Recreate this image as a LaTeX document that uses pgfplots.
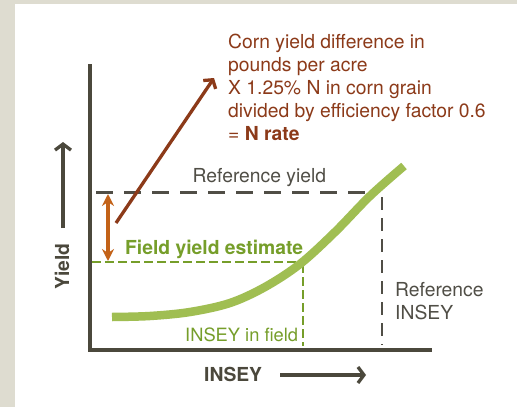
\documentclass[border=0pt]{standalone}
\usepackage{pgfplots}
\pgfplotsset{compat=1.18}
\usepackage{fontspec}
\setmainfont{TeX Gyre Heros}
\usetikzlibrary{arrows.meta}
\definecolor{bggray}{RGB}{222,220,208}
\definecolor{axiscol}{RGB}{75,72,60}
\definecolor{dashgray}{RGB}{80,78,70}
\definecolor{curvegreen}{RGB}{160,190,82}
\definecolor{textgreen}{RGB}{118,158,42}
\definecolor{arrorange}{RGB}{195,98,24}
\definecolor{brown}{RGB}{140,58,25}
\tikzset{lbl/.style={inner sep=0pt, anchor=base west, font=\fontsize{19.3}{23}\selectfont}}
\begin{document}
\begin{tikzpicture}
\begin{axis}[
  width=517pt, height=407pt, scale only axis,
  xmin=0, xmax=517, ymin=0, ymax=407, y dir=reverse,
  axis lines=none, clip=false,
]
% background
\fill[bggray] (axis cs:0,0) rectangle (axis cs:517,407);
\fill[white] (axis cs:15,4) rectangle (axis cs:517,407);
% axes
\addplot[axiscol, line width=3.4pt] coordinates {(90,64) (90,351.7)};
\addplot[axiscol, line width=3.4pt] coordinates {(88.3,350) (432,350)};
% reference yield dashed
\addplot[dashgray, line width=3.4pt, dash pattern=on 17pt off 11pt] coordinates {(96,192.5) (372,192.5)};
\addplot[dashgray, line width=2.7pt, dash pattern=on 13pt off 8pt] coordinates {(382,197) (382,345)};
% field yield dashed
\addplot[textgreen, line width=2.2pt, dash pattern=on 9pt off 4pt] coordinates {(92,262) (300,262)};
\addplot[textgreen, line width=2.2pt, dash pattern=on 9pt off 4pt] coordinates {(303,264) (303,346)};
% curve
\addplot[curvegreen, line width=8.5pt, smooth, tension=0.55] coordinates {
 (112,317) (150,316) (190,312) (230,303) (265,287) (300,264) (335,232) (370,196) (404,166)};
% orange double arrow
\addplot[arrorange, line width=3.2pt, {Stealth[length=12pt,width=12pt,inset=4pt]}-{Stealth[length=12pt,width=12pt,inset=4pt]}] coordinates {(108,194) (108,261)};
% brown arrow
\addplot[brown, line width=3.3pt, -{Straight Barb[length=6pt,width=15pt,line width=3.3pt]}] coordinates {(116,223) (214,78)};
% axis label arrows
\addplot[axiscol, line width=3.3pt, -{Straight Barb[length=6pt,width=16pt,line width=3.3pt]}] coordinates {(63,228) (63,142)};
\addplot[axiscol, line width=3.3pt, -{Straight Barb[length=6pt,width=16pt,line width=3.3pt]}] coordinates {(280,375) (366,375)};
% texts
\node[lbl, text=brown] at (axis cs:228,48.5) {Corn yield difference in};
\node[lbl, text=brown] at (axis cs:228,71.5) {pounds per acre};
\node[lbl, text=brown] at (axis cs:228,94.5) {X 1.25\% N in corn grain};
\node[lbl, text=brown] at (axis cs:228,117.5) {divided by efficiency factor 0.6};
\node[lbl, text=brown] at (axis cs:228,140.5) {= \textbf{N rate}};
\node[lbl, text=dashgray] at (axis cs:192.5,182.5) {Reference yield};
\node[lbl, text=textgreen] at (axis cs:125,254.5) {\bfseries Field yield estimate};
\node[lbl, text=textgreen, font=\fontsize{18.3}{22}\selectfont] at (axis cs:185,341.5) {INSEY in field};
\node[lbl, text=dashgray] at (axis cs:395,296.5) {Reference};
\node[lbl, text=dashgray] at (axis cs:395,319.5) {INSEY};
\node[lbl, rotate=90, text=axiscol] at (axis cs:69,290) {\bfseries Yield};
\node[lbl, text=axiscol] at (axis cs:204,381.5) {\bfseries INSEY};
\end{axis}
\end{tikzpicture}
\end{document}
